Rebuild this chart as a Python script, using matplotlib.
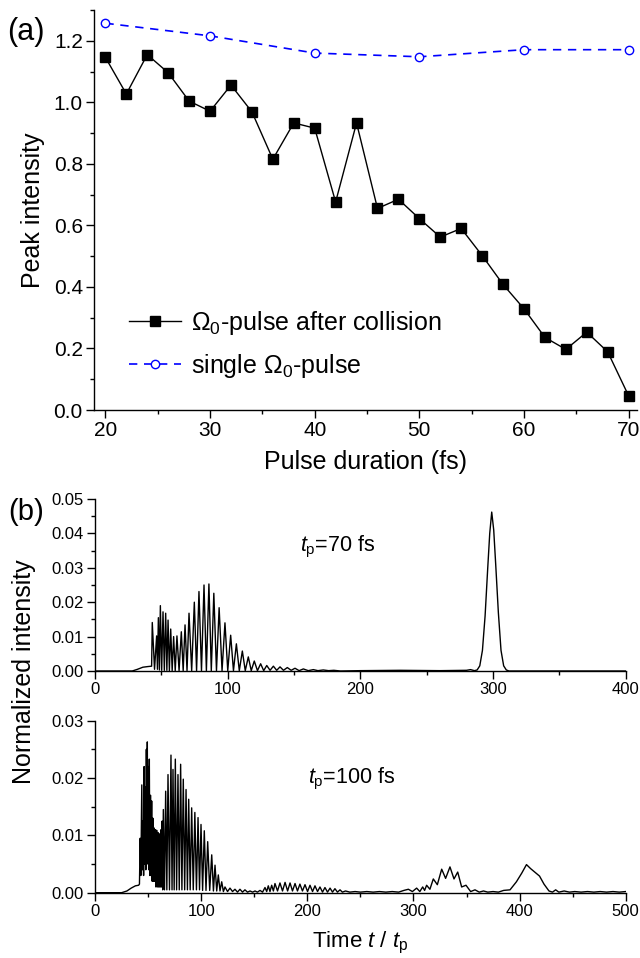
import numpy as np
import matplotlib
matplotlib.use('Agg')
import matplotlib.pyplot as plt
from matplotlib.ticker import MultipleLocator, FormatStrFormatter

plt.rcParams['font.family'] = ['Liberation Sans', 'DejaVu Sans']
plt.rcParams['mathtext.fontset'] = 'custom'
plt.rcParams['mathtext.rm'] = 'Liberation Sans'
plt.rcParams['mathtext.it'] = 'Liberation Sans:italic'

# --- panel (a): peak intensity vs pulse duration ---
duration = [20, 22, 24, 26, 28, 30, 32, 34, 36, 38, 40, 42, 44,
            46, 48, 50, 52, 54, 56, 58, 60, 62, 64, 66, 68, 70]
peak_after = [1.146, 1.027, 1.155, 1.096, 1.004, 0.971, 1.056, 0.969, 0.815,
              0.933, 0.916, 0.676, 0.933, 0.655, 0.685, 0.622, 0.562, 0.590,
              0.502, 0.408, 0.329, 0.236, 0.197, 0.253, 0.189, 0.046]
duration_single = [20, 30, 40, 50, 60, 70]
peak_single = [1.257, 1.216, 1.160, 1.148, 1.171, 1.171]

# --- panel (b): normalized intensity traces, (t/tp, value) vertices ---
trace_70fs = [
    (0, 0), (28, 0), (32, 0.0005), (36, 0.0011), (40, 0.0013), (42.6, 0.0014),
    (43.1, 0.0141), (44.8, 0.0005), (46.4, 0.0102), (47.0, 0.0005), (47.7, 0.0155),
    (48.5, 0.0003), (49.2, 0.0190), (50.2, 0.0002), (51.2, 0.0172), (52.2, 0.0002),
    (53.2, 0.0168), (54.1, 0.0002), (55.0, 0.0148), (56.0, 0.0001), (57.0, 0.0122),
    (58.1, 0.0001), (59.2, 0.0100), (60.4, 0.0001), (61.7, 0.0102), (63.3, 0.0001),
    (65.0, 0.0114), (66.4, 0.0001), (67.8, 0.0134), (69.3, 0.0001), (70.8, 0.0168),
    (72.8, 0.0001), (74.8, 0.0200), (76.5, 0.0001), (78.3, 0.0231), (80.2, 0.0001),
    (82.1, 0.0250), (83.9, 0.0001), (85.8, 0.0253), (87.6, 0.0001), (89.5, 0.0226),
    (91.5, 0.0001), (93.5, 0.0184), (95.7, 0.0001), (97.9, 0.0140), (100.0, 0.0001),
    (102.2, 0.0104), (104.3, 0.0001), (106.5, 0.0079), (108.7, 0.0001), (111.0, 0.0058),
    (113.2, 0.0001), (115.5, 0.0041), (117.7, 0.0001), (120.0, 0.0029), (122.4, 0.0001),
    (124.8, 0.0021), (127.1, 0.0001), (129.4, 0.0016), (131.9, 0.0002), (134.4, 0.0014),
    (136.9, 0.0002), (139.4, 0.0012), (142.0, 0.0002), (144.9, 0.0010), (147.8, 0.0002),
    (150.7, 0.0008), (153.8, 0.0001), (157.0, 0.0006), (160.7, 0.0001), (164.5, 0.0004),
    (168.0, 0.0001), (172.0, 0.0003), (176.0, 0.0001), (180.0, 0.0002), (185.0, 0.0),
    (200.0, 0.0001), (230.0, 0.0002), (260.0, 0.0001), (280.0, 0.0002), (283.0, 0.0004),
    (286.0, 0.0001), (288.0, 0.0003), (290.0, 0.0015), (292.0, 0.0060), (294.0, 0.0160),
    (296.0, 0.0300), (297.5, 0.0400), (299.0, 0.0462), (300.5, 0.0410), (302.0, 0.0310),
    (304.0, 0.0170), (306.0, 0.0060), (308.0, 0.0015), (310.0, 0.0003), (312.0, 0.0),
    (400.0, 0.0),
]

trace_100fs = [
    (0, 0), (25, 0), (30, 0.0003), (34, 0.0008), (38, 0.0012), (41, 0.0013), (41.8, 0.0015),
    (42.5, 0.0095), (43.1, 0.003), (44.0, 0.0188), (44.6, 0.004), (45.2, 0.0125),
    (45.7, 0.003), (46.2, 0.0220), (46.8, 0.005), (47.3, 0.0185), (47.8, 0.004),
    (48.3, 0.0250), (48.7, 0.006), (49.2, 0.0263), (49.7, 0.005), (50.2, 0.0220),
    (50.6, 0.004), (51.1, 0.0233), (51.6, 0.003), (52.2, 0.0170), (52.7, 0.003),
    (53.3, 0.0160), (53.8, 0.002), (54.4, 0.0130), (54.9, 0.002), (55.5, 0.0113),
    (56.1, 0.002), (56.7, 0.0110), (57.3, 0.001), (58.0, 0.0109), (58.6, 0.001),
    (59.2, 0.0105), (59.7, 0.001), (60.2, 0.0101), (60.7, 0.001), (61.2, 0.0103),
    (61.7, 0.001), (62.2, 0.0110), (62.7, 0.001), (63.2, 0.0125), (63.7, 0.0005),
    (64.3, 0.0145), (65.4, 0.0005), (66.5, 0.0177), (67.6, 0.0005), (68.7, 0.0206),
    (70.1, 0.0005), (71.5, 0.0240), (72.5, 0.0005), (73.4, 0.0215), (74.5, 0.0005),
    (75.6, 0.0233), (76.8, 0.0005), (78.1, 0.0206), (79.3, 0.0005), (80.6, 0.0224),
    (81.8, 0.0005), (83.1, 0.0198), (84.4, 0.0005), (85.7, 0.0180), (87.0, 0.0005),
    (88.2, 0.0163), (89.6, 0.0005), (91.0, 0.0148), (92.5, 0.0005), (94.0, 0.0140),
    (95.5, 0.0005), (97.0, 0.0131), (98.4, 0.0005), (99.8, 0.0119), (101.3, 0.0004),
    (102.9, 0.0108), (104.5, 0.0004), (106.1, 0.0089), (108.0, 0.0004), (109.9, 0.0066),
    (111.5, 0.0003), (113.0, 0.0048), (114.6, 0.0003), (116.1, 0.0031), (117.7, 0.0003),
    (119.3, 0.0019), (120.9, 0.0002), (122.4, 0.0010), (124.8, 0.0002), (127.1, 0.0008),
    (129.5, 0.0002), (131.8, 0.0006), (134.2, 0.0001), (136.5, 0.0006), (138.9, 0.0001),
    (141.2, 0.0005), (143.6, 0.0001), (146.0, 0.0003), (148.4, 0.0001), (150.7, 0.0003),
    (153.0, 0.0001), (155.4, 0.0004), (157.8, 0.0001), (160.1, 0.0009), (161.7, 0.0002),
    (163.2, 0.0012), (164.8, 0.0002), (166.4, 0.0013), (168.0, 0.0003), (169.5, 0.0016),
    (171.9, 0.0003), (174.2, 0.0017), (176.6, 0.0003), (179.0, 0.0018), (181.4, 0.0003),
    (183.7, 0.0017), (186.0, 0.0003), (188.4, 0.0016), (190.7, 0.0003), (193.0, 0.0015),
    (195.4, 0.0003), (197.8, 0.0014), (200.2, 0.0002), (202.5, 0.0013), (204.9, 0.0002),
    (207.2, 0.0012), (209.6, 0.0002), (211.9, 0.0010), (214.3, 0.0001), (216.6, 0.0009),
    (219.0, 0.0001), (221.4, 0.0008), (223.7, 0.0001), (226.0, 0.0007), (228.4, 0.0001),
    (230.8, 0.0005), (233.0, 0.0001), (236.0, 0.0003), (240.0, 0.0001), (245.0, 0.0002),
    (250.0, 0.0001), (256.0, 0.0002), (262.0, 0.0001), (268.0, 0.0002), (274.0, 0.0001),
    (280.0, 0.0002), (286.0, 0.0001), (291.0, 0.0004), (295.2, 0.0006), (299.0, 0.0002),
    (303.0, 0.0008), (306.0, 0.0002), (308.7, 0.0010), (310.5, 0.0004), (312.4, 0.0013),
    (315.5, 0.0006), (318.7, 0.0024), (322.5, 0.0014), (326.6, 0.0041), (330.3, 0.0025),
    (334.4, 0.0045), (338.2, 0.0024), (341.7, 0.0036), (345.4, 0.0010), (349.5, 0.0013),
    (353.9, 0.0002), (358.0, 0.0005), (362.0, 0.0001), (366.0, 0.0003), (370.0, 0.0001),
    (375.0, 0.0002), (380.0, 0.0001), (385.0, 0.0004), (391.0, 0.0005), (397.0, 0.0019),
    (402.0, 0.0034), (406.5, 0.0049), (410.4, 0.0042), (415.0, 0.0035), (418.8, 0.0029),
    (423.0, 0.0015), (427.7, 0.0003), (431.0, 0.0001), (434.0, 0.0005), (437.0, 0.0001),
    (442.0, 0.0003), (447.0, 0.0001), (452.0, 0.0002), (458.0, 0.0001), (464.0, 0.0002),
    (470.0, 0.0001), (476.0, 0.0002), (482.0, 0.0001), (488.0, 0.0002), (494.0, 0.0001),
    (500.0, 0.0002),
]

fig = plt.figure(figsize=(6.4, 9.58), dpi=100)
W, H = 640.0, 958.0


def style_axes(ax, tick_size):
    for side in ('top', 'right'):
        ax.spines[side].set_visible(False)
    for side in ('left', 'bottom'):
        ax.spines[side].set_linewidth(1.0)
    ax.tick_params(which='major', direction='out', length=6, width=1.0,
                   labelsize=tick_size, pad=2)
    ax.tick_params(which='minor', direction='out', length=3, width=1.0)


# (a)
ax_a = fig.add_axes([93.9 / W, 1 - 410 / H, (637 - 93.9) / W, 400 / H])
ax_a.plot(duration, peak_after, color='black', lw=1.0, marker='s', ms=6.5,
          mfc='black', mec='black', label=r'$\Omega_0$-pulse after collision')
ax_a.plot(duration_single, peak_single, color='#0000ff', lw=1.2, ls=(0, (5, 4)),
          marker='o', ms=6, mfc='white', mec='#0000ff', mew=1.0,
          label=r'single $\Omega_0$-pulse')
ax_a.set_xlim(18.9, 70.8)
ax_a.set_ylim(0, 1.3)
ax_a.xaxis.set_major_locator(MultipleLocator(10))
ax_a.xaxis.set_minor_locator(MultipleLocator(5))
ax_a.yaxis.set_major_locator(MultipleLocator(0.2))
ax_a.yaxis.set_minor_locator(MultipleLocator(0.1))
ax_a.yaxis.set_major_formatter(FormatStrFormatter('%.1f'))
style_axes(ax_a, 15)
ax_a.set_xlabel('Pulse duration (fs)', fontsize=18, labelpad=7)
ax_a.set_ylabel('Peak intensity', fontsize=18, labelpad=6)
ax_a.legend(loc='upper left', bbox_to_anchor=(0.064, 0.252), frameon=False,
            fontsize=18, handlelength=2.1, handletextpad=0.4, labelspacing=0.6,
            borderpad=0, borderaxespad=0, numpoints=1)
fig.text(26 / W, 1 - 32 / H, '(a)', fontsize=22, ha='center', va='center')

# (b) upper: 70 fs
ax_b1 = fig.add_axes([95.1 / W, 1 - 671 / H, 530.6 / W, 172 / H])
t70, v70 = np.array(trace_70fs).T
ax_b1.plot(t70, v70, color='black', lw=1.0)
ax_b1.set_xlim(0, 400)
ax_b1.set_ylim(0, 0.05)
ax_b1.xaxis.set_major_locator(MultipleLocator(100))
ax_b1.xaxis.set_minor_locator(MultipleLocator(50))
ax_b1.yaxis.set_major_locator(MultipleLocator(0.01))
ax_b1.yaxis.set_minor_locator(MultipleLocator(0.005))
ax_b1.yaxis.set_major_formatter(FormatStrFormatter('%.2f'))
style_axes(ax_b1, 12)
ax_b1.text(154.5, 0.0347, r'$t_\mathrm{p}$=70 fs', fontsize=15.5, ha='left', va='baseline')

# (b) lower: 100 fs
ax_b2 = fig.add_axes([95.1 / W, 1 - 892.7 / H, 530.6 / W, 172 / H])
t100, v100 = np.array(trace_100fs).T
ax_b2.plot(t100, v100, color='black', lw=1.0)
ax_b2.set_xlim(0, 500)
ax_b2.set_ylim(0, 0.03)
ax_b2.xaxis.set_major_locator(MultipleLocator(100))
ax_b2.xaxis.set_minor_locator(MultipleLocator(50))
ax_b2.yaxis.set_major_locator(MultipleLocator(0.01))
ax_b2.yaxis.set_minor_locator(MultipleLocator(0.005))
ax_b2.yaxis.set_major_formatter(FormatStrFormatter('%.2f'))
style_axes(ax_b2, 12)
ax_b2.text(200.6, 0.0191, r'$t_\mathrm{p}$=100 fs', fontsize=15.5, ha='left', va='baseline')
ax_b2.set_xlabel(r'Time $t$ / $t_\mathrm{p}$', fontsize=16, labelpad=8)

fig.text(26 / W, 1 - 512 / H, '(b)', fontsize=21, ha='center', va='center')
fig.text(24 / W, 1 - 672 / H, 'Normalized intensity', fontsize=18,
         rotation=90, ha='center', va='center')

fig.savefig('out.png', dpi=100)
